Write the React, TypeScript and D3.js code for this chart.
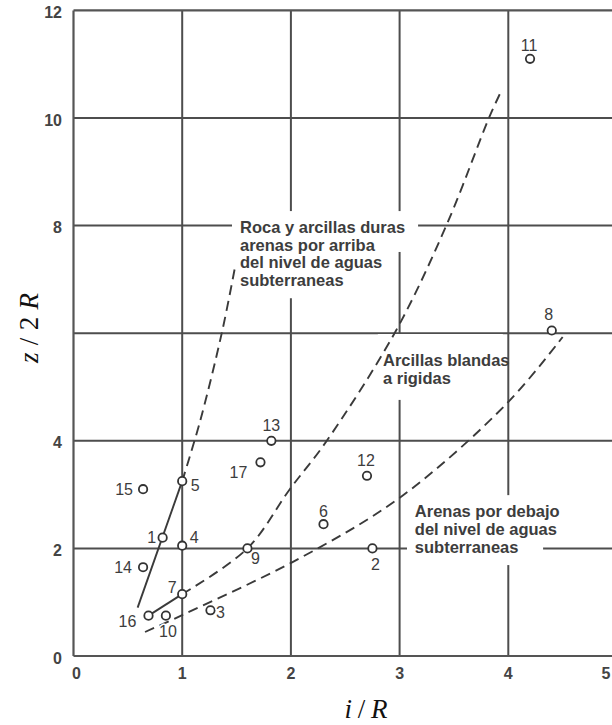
import React from "react";
import * as d3 from "d3";

// Case histories: embedment ratio i/R against depth ratio z/2R
const caseIds = [1, 2, 3, 4, 5, 6, 7, 8, 9, 10, 11, 12, 13, 14, 15, 16, 17];
const caseIR = [0.82, 2.75, 1.26, 1.0, 1.0, 2.3, 1.0, 4.4, 1.6, 0.85, 4.2, 2.7, 1.82, 0.64, 0.64, 0.69, 1.72];
const caseZ2R = [2.2, 2.0, 0.85, 2.05, 3.25, 2.45, 1.15, 6.05, 2.0, 0.75, 11.1, 3.35, 4.0, 1.65, 3.1, 0.75, 3.6];

// Boundary curves between soil types (i/R, z/2R)
const rockSolid: [number, number][] = [[0.59, 0.9], [1.0, 3.25]];
const rockDashed: [number, number][] = [[1.0, 3.25], [1.164, 4.36], [1.366, 6.02], [1.486, 7.23]];
const claySolid: [number, number][] = [[0.69, 0.75], [1.0, 1.15]];
const clayDashed: [number, number][] = [
  [1.0, 1.15], [1.6, 2.0], [1.99, 3.1], [2.33, 4.0], [2.97, 6.06], [3.44, 8.05], [3.83, 10.04], [3.94, 10.52],
];
const sandDashed: [number, number][] = [
  [0.658, 0.446], [1.0, 0.76], [2.084, 1.82], [3.02, 2.97], [3.99, 4.7], [4.5, 5.93],
];

// Axes
const xTickValues = [0, 1, 2, 3, 4, 5];
const yTickValues = [0, 2, 4, 8, 10, 12];
const xGridValues = [1, 2, 3, 4];
const yGridValues = [2, 4, 6, 8, 10];

// Region captions
const rockText = ["Roca y arcillas duras", "arenas por arriba", "del nivel de aguas", "subterraneas"];
const softClayText = ["Arcillas blandas", "a rigidas"];
const sandText = ["Arenas por debajo", "del nivel de aguas", "subterraneas"];

// Placement of the case numbers around each marker (px: dx, dy of label centre)
const labelOffset: Record<number, [number, number]> = {
  1: [-11, 0], 2: [3, 16], 3: [10, 2], 4: [12, -8], 5: [13, 4], 6: [0, -13], 7: [-10, -7],
  8: [-3, -16], 9: [8, 10], 10: [2, 16], 11: [-1, -13], 12: [-1, -15], 13: [0, -15],
  14: [-20, 0], 15: [-19, 0], 16: [-21, 6], 17: [-22, 10],
};

// Caption layout in data units: first baseline and white backing boxes [x0, x1, yTop, yBottom]
const captions = [
  { lines: rockText, x: 1.532, y: 7.86, lead: 17.6, boxes: [[1.458, 3.17, 8.27, 7.51], [1.458, 2.975, 7.51, 6.65]] },
  { lines: softClayText, x: 2.847, y: 5.39, lead: 18, boxes: [[2.8, 3.95, 5.985, 4.76]] },
  { lines: sandText, x: 3.14, y: 2.584, lead: 18, boxes: [[3.068, 4.32, 2.99, 1.69]] },
];

const sans = "'Liberation Sans', Arial, Helvetica, sans-serif";
const serif = "'Liberation Serif', 'Times New Roman', serif";
const ink = "#3d3d3d";
const gridInk = "#4d4d4d";

export default function App() {
  const W = 612;
  const H = 725;
  const x = d3.scaleLinear().domain([0, 5]).range([73.5, 617]);
  const y = d3.scaleLinear().domain([0, 12]).range([656, 10.4]);

  const straight = d3
    .line<[number, number]>()
    .x((d) => x(d[0]))
    .y((d) => y(d[1]));
  const smooth = d3
    .line<[number, number]>()
    .x((d) => x(d[0]))
    .y((d) => y(d[1]))
    .curve(d3.curveCatmullRom.alpha(0.5));

  const x0 = x(0), x5 = x(5), yTop = y(12), yBot = y(0);

  return (
    <svg
      width={W}
      height={H}
      viewBox={`0 0 ${W} ${H}`}
      style={{ position: "absolute", left: 0, top: 0, display: "block", background: "#fff" }}
    >
      <rect x={0} y={0} width={W} height={H} fill="#fff" />

      {/* grid */}
      <g stroke={gridInk} strokeWidth={2} fill="none">
        {xGridValues.map((v) => (
          <line key={`gx${v}`} x1={x(v)} x2={x(v)} y1={yTop} y2={yBot} />
        ))}
        {yGridValues.map((v) => (
          <line key={`gy${v}`} x1={x0} x2={x5} y1={y(v)} y2={y(v)} />
        ))}
      </g>

      {/* frame */}
      <g stroke="#555" strokeWidth={2.2} fill="none">
        <line x1={x0} x2={x5} y1={yTop} y2={yTop} />
        <line x1={x0} x2={x5} y1={yBot} y2={yBot} />
        <line x1={x0} x2={x0} y1={yTop} y2={yBot} />
        <line x1={x5} x2={x5} y1={yTop} y2={yBot} />
      </g>

      {/* caption backing */}
      {captions.map((c, i) =>
        c.boxes.map((b, j) => (
          <rect
            key={`box${i}-${j}`}
            x={x(b[0])}
            y={y(b[2])}
            width={x(b[1]) - x(b[0])}
            height={y(b[3]) - y(b[2])}
            fill="#fff"
          />
        ))
      )}

      {/* boundaries */}
      <g fill="none" stroke="#3a3a3a" strokeWidth={1.9}>
        <path d={straight(rockSolid) ?? ""} />
        <path d={straight(claySolid) ?? ""} />
        <g strokeDasharray="10 6">
          <path d={smooth(rockDashed) ?? ""} />
          <path d={smooth(clayDashed) ?? ""} />
          <path d={smooth(sandDashed) ?? ""} />
        </g>
      </g>

      {/* cases */}
      <g>
        {caseIds.map((id, i) => (
          <circle
            key={`c${id}`}
            cx={x(caseIR[i])}
            cy={y(caseZ2R[i])}
            r={4.2}
            fill="#fff"
            stroke="#333"
            strokeWidth={1.8}
          />
        ))}
      </g>
      <g fontFamily={sans} fontSize={16} fill={ink} textAnchor="middle">
        {caseIds.map((id, i) => {
          const [dx, dy] = labelOffset[id];
          return (
            <text
              key={`l${id}`}
              x={x(caseIR[i]) + dx}
              y={y(caseZ2R[i]) + dy}
              dominantBaseline="central"
              stroke="#fff"
              strokeWidth={3}
              paintOrder="stroke"
              strokeLinejoin="round"
            >
              {id}
            </text>
          );
        })}
      </g>

      {/* captions */}
      <g fontFamily={sans} fontSize={16.5} fontWeight="bold" fill={ink}>
        {captions.map((c, i) => (
          <text key={`cap${i}`} x={x(c.x)} y={y(c.y)}>
            {c.lines.map((t, j) => (
              <tspan key={j} x={x(c.x)} dy={j === 0 ? 0 : c.lead}>
                {t}
              </tspan>
            ))}
          </text>
        ))}
      </g>

      {/* tick labels */}
      <g fontFamily={sans} fontSize={16} fontWeight="bold" fill="#444">
        {yTickValues.map((v) => (
          <text key={`ty${v}`} x={62} y={y(v) + 2} textAnchor="end" dominantBaseline="central">
            {v}
          </text>
        ))}
        {xTickValues.map((v) => (
          <text
            key={`tx${v}`}
            x={Math.min(x(v) + (v === 0 ? 3 : 0), W - 6)}
            y={673}
            textAnchor="middle"
            dominantBaseline="central"
          >
            {v}
          </text>
        ))}
      </g>

      {/* axis titles */}
      <text
        x={366}
        y={718}
        textAnchor="middle"
        fontFamily={serif}
        fontSize={27}
        fill="#111"
        textLength={43}
        lengthAdjust="spacing"
      >
        <tspan fontStyle="italic">i</tspan>/<tspan fontStyle="italic">R</tspan>
      </text>
      <text
        transform="translate(38,328) rotate(-90)"
        textAnchor="middle"
        fontFamily={serif}
        fontSize={27}
        fill="#111"
        textLength={70}
        lengthAdjust="spacing"
      >
        <tspan fontStyle="italic">z</tspan>/2<tspan fontStyle="italic">R</tspan>
      </text>
    </svg>
  );
}
